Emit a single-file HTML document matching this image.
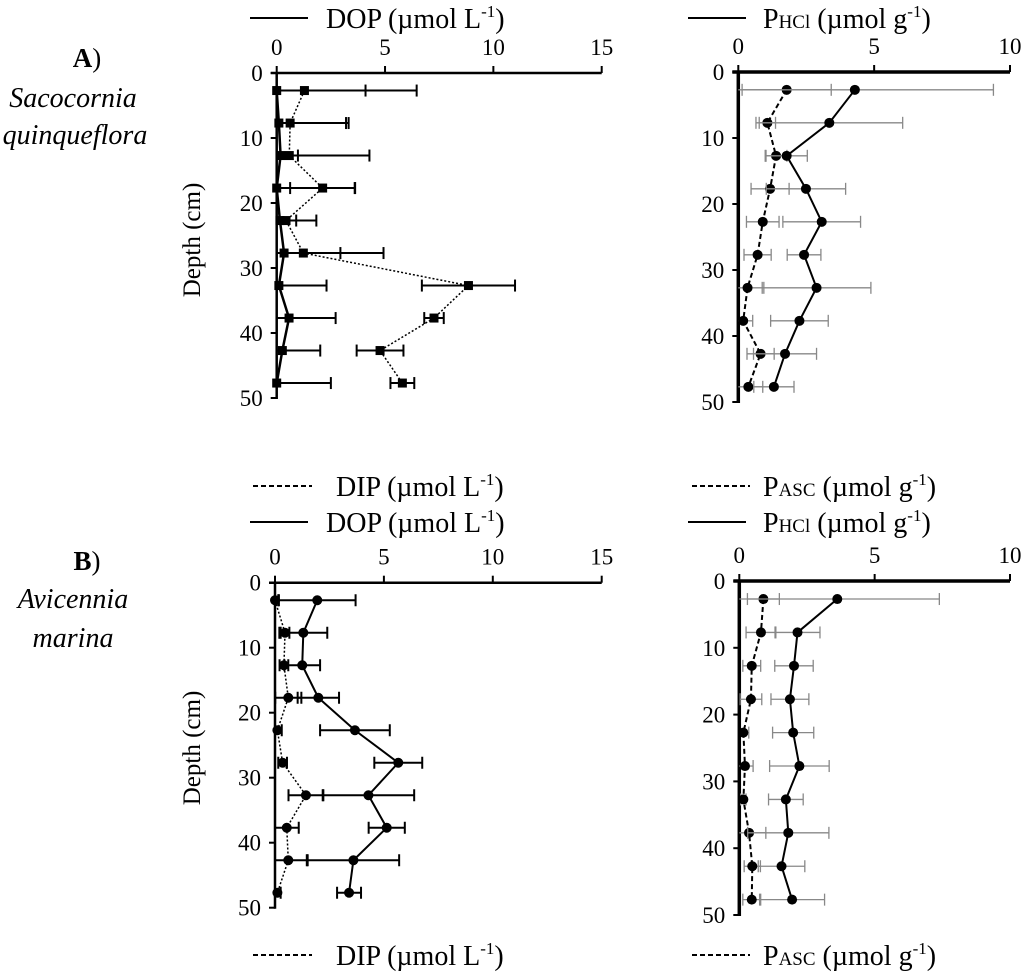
<!DOCTYPE html>
<html><head><meta charset="utf-8"><style>
html,body{margin:0;padding:0;background:#fff;}
svg{display:block;font-family:"Liberation Serif",serif;}
</style></head><body>
<svg id="fig" width="1024" height="977" viewBox="0 0 1024 977" xmlns="http://www.w3.org/2000/svg">
<g>
<text x="87" y="67" font-size="27" font-weight="bold" text-anchor="middle">A<tspan font-weight="normal">)</tspan></text>
<text x="73" y="107" font-size="28" font-style="italic" text-anchor="middle">Sacocornia</text>
<text x="75" y="144" font-size="28" font-style="italic" text-anchor="middle">quinqueflora</text>
</g>
<g>
<text x="87" y="570" font-size="27" font-weight="bold" text-anchor="middle">B<tspan font-weight="normal">)</tspan></text>
<text x="73" y="608" font-size="28" font-style="italic" text-anchor="middle">Avicennia</text>
<text x="73" y="647" font-size="28" font-style="italic" text-anchor="middle">marina</text>
</g>
<text transform="translate(200,240) rotate(-90)" font-size="25" text-anchor="middle">Depth (cm)</text>
<text transform="translate(200,748) rotate(-90)" font-size="25" text-anchor="middle">Depth (cm)</text>

<g><line x1="250" y1="18" x2="308" y2="18" stroke="#000" stroke-width="2"/><text x="326" y="28" font-size="28">DOP (µmol L<tspan font-size="17" dy="-11">-1</tspan><tspan dy="11">)</tspan></text></g>
<g><line x1="688" y1="18" x2="746" y2="18" stroke="#000" stroke-width="2"/><text x="763" y="28" font-size="28">P<tspan font-size="19">HCl</tspan> (µmol g<tspan font-size="17" dy="-11">-1</tspan><tspan dy="11">)</tspan></text></g>
<g><line x1="253" y1="486" x2="312" y2="486" stroke="#000" stroke-width="2" stroke-dasharray="5,3"/><text x="336" y="496" font-size="28">DIP (µmol L<tspan font-size="17" dy="-11">-1</tspan><tspan dy="11">)</tspan></text></g>
<g><line x1="692" y1="486" x2="750" y2="486" stroke="#000" stroke-width="2" stroke-dasharray="5,3"/><text x="763" y="496" font-size="28">P<tspan font-size="19">ASC</tspan> (µmol g<tspan font-size="17" dy="-11">-1</tspan><tspan dy="11">)</tspan></text></g>
<g><line x1="250" y1="522" x2="308" y2="522" stroke="#000" stroke-width="2"/><text x="326" y="532" font-size="28">DOP (µmol L<tspan font-size="17" dy="-11">-1</tspan><tspan dy="11">)</tspan></text></g>
<g><line x1="688" y1="522" x2="746" y2="522" stroke="#000" stroke-width="2"/><text x="763" y="532" font-size="28">P<tspan font-size="19">HCl</tspan> (µmol g<tspan font-size="17" dy="-11">-1</tspan><tspan dy="11">)</tspan></text></g>
<g><line x1="253" y1="955" x2="312" y2="955" stroke="#000" stroke-width="2" stroke-dasharray="5,3"/><text x="336" y="965" font-size="28">DIP (µmol L<tspan font-size="17" dy="-11">-1</tspan><tspan dy="11">)</tspan></text></g>
<g><line x1="692" y1="955" x2="750" y2="955" stroke="#000" stroke-width="2" stroke-dasharray="5,3"/><text x="763" y="965" font-size="28">P<tspan font-size="19">ASC</tspan> (µmol g<tspan font-size="17" dy="-11">-1</tspan><tspan dy="11">)</tspan></text></g>
</svg>
<script>
const depths = [2.7,7.7,12.7,17.7,22.7,27.7,32.7,37.7,42.7,47.7];
const depthTicks = [0,10,20,30,40,50];
const xTicksLeft = [0,5,10,15];
const xTicksRight = [0,5,10];
// Panel A left
const aDOP = [0,0.1,0.18,0,0.15,0.34,0.1,0.57,0.26,0];
const aDOPerr = [4.1,3.1,0.8,3.6,0.75,2.6,2.2,2.15,1.75,2.5];
const aDIP = [1.28,0.62,0.58,2.12,0.43,1.23,8.85,7.26,4.77,5.8];
const aDIPerr = [5.18,2.7,3.7,1.5,1.4,3.7,2.15,0.45,1.08,0.55];
// Panel A right
const aPHCl = [4.29,3.35,1.78,2.49,3.07,2.42,2.88,2.25,1.72,1.31];
const aPHClerr = [5.1,2.7,0.76,1.46,1.43,0.62,2.0,1.06,1.16,0.74];
const aPASC = [1.78,1.07,1.39,1.17,0.9,0.71,0.34,0.18,0.82,0.37];
const aPASCerr = [1.64,0.3,0.4,0.7,0.6,0.5,0.6,0.35,0.5,0.53];
// Panel B left
const bDOP = [1.94,1.3,1.25,1.99,3.67,5.66,4.29,5.13,3.6,3.4];
const bDOPerr = [1.76,1.1,0.82,0.95,1.6,1.1,2.1,0.83,2.1,0.55];
const bDIP = [0,0.46,0.41,0.61,0.11,0.35,1.42,0.54,0.61,0.11];
const bDIPerr = [0.15,0.2,0.2,0.6,0.2,0.2,0.8,0.55,0.85,0.15];
// Panel B right
const bPHCl = [3.62,2.15,2.02,1.87,1.99,2.22,1.72,1.81,1.56,1.95];
const bPHClerr = [3.77,0.83,0.71,0.7,0.76,1.1,0.64,1.5,0.86,1.2];
const bPASC = [0.89,0.8,0.46,0.43,0.15,0.21,0.15,0.36,0.48,0.46];
const bPASCerr = [0.59,0.55,0.33,0.4,0.2,0.3,0.1,0.62,0.3,0.33];

const NS='http://www.w3.org/2000/svg';
const svg=document.getElementById('fig');
function mk(tag,attrs,parent){const e=document.createElementNS(NS,tag);for(const k in attrs)e.setAttribute(k,attrs[k]);(parent||svg).appendChild(e);return e;}

function panel(name,cfg,series){
  const g=mk('g',{});
  
  
  const xs=v=>cfg.x0+(cfg.x1-cfg.x0)*v/cfg.max;
  const ys=d=>cfg.y0+d*cfg.k;
  const ax=mk('line',{x1:cfg.x0-6,y1:cfg.y0,x2:cfg.x1,y2:cfg.y0,stroke:'#000','stroke-width':cfg.aw},g);
  
  
  const ay=mk('line',{x1:cfg.x0,y1:cfg.y0,x2:cfg.x0,y2:ys(50)+1,stroke:'#000','stroke-width':cfg.aw},g);
  
  
  cfg.ticks.forEach(t=>{
    mk('line',{x1:xs(t),y1:cfg.y0,x2:xs(t),y2:cfg.y0-7,stroke:'#000','stroke-width':2},g);
    const tl=mk('text',{x:xs(t),y:cfg.y0-18,'font-size':23,'text-anchor':'middle'},g);
    
    
    tl.textContent=t;
  });
  depthTicks.forEach(t=>{
    mk('line',{x1:cfg.x0-6,y1:ys(t),x2:cfg.x0,y2:ys(t),stroke:'#000','stroke-width':2},g);
    const tl=mk('text',{x:cfg.x0-14,y:ys(t)+8,'font-size':23,'text-anchor':'end'},g);
    
    
    tl.textContent=t;
  });
  series.forEach(s=>{
    const sg=mk('g',{},g);
    
    
    s.vals.forEach((v,i)=>{
      const y=ys(depths[i]);
      const lo=Math.max(0,v-s.err[i]), hi=v+s.err[i];
      mk('line',{x1:xs(lo),y1:y,x2:xs(hi),y2:y,stroke:cfg.ec,'stroke-width':cfg.ew},sg);
      if(v-s.err[i]>0) mk('line',{x1:xs(lo),y1:y-6,x2:xs(lo),y2:y+6,stroke:cfg.ec,'stroke-width':cfg.ew},sg);
      mk('line',{x1:xs(hi),y1:y-6,x2:xs(hi),y2:y+6,stroke:cfg.ec,'stroke-width':cfg.ew},sg);
    });
    const pts=s.vals.map((v,i)=>xs(v)+','+ys(depths[i])).join(' ');
    const pl=mk('polyline',{points:pts,fill:'none',stroke:'#000','stroke-width':s.w,'stroke-dasharray':s.dash||'none'},sg);
    
    
    s.vals.forEach((v,i)=>{
      let m;
      if(cfg.square) m=mk('rect',{x:xs(v)-4.5,y:ys(depths[i])-4.5,width:9,height:9,fill:'#000'},sg);
      else m=mk('circle',{cx:xs(v),cy:ys(depths[i]),r:5,fill:'#000'},sg);
      
      
    });
  });
}
panel('panel-a-porewater',{x0:276.7,x1:601.7,max:15,y0:73,k:6.5,ticks:xTicksLeft,aw:2.5,ec:'#000',ew:2,square:true},
  [{name:'dip-series-a',vals:aDIP,err:aDIPerr,w:1.5,dash:'2,2'},{name:'dop-series-a',vals:aDOP,err:aDOPerr,w:2.5}]);
panel('panel-a-sediment',{x0:738.3,x1:1010,max:10,y0:72,k:6.6,ticks:xTicksRight,aw:3.5,ec:'#888',ew:1.3},
  [{name:'pasc-series-a',vals:aPASC,err:aPASCerr,w:2,dash:'5,3'},{name:'phcl-series-a',vals:aPHCl,err:aPHClerr,w:2}]);
panel('panel-b-porewater',{x0:275,x1:601.7,max:15,y0:582.7,k:6.5,ticks:xTicksLeft,aw:2.5,ec:'#000',ew:2},
  [{name:'dip-series-b',vals:bDIP,err:bDIPerr,w:1.5,dash:'2,2'},{name:'dop-series-b',vals:bDOP,err:bDOPerr,w:2}]);
panel('panel-b-sediment',{x0:739.3,x1:1010,max:10,y0:581,k:6.68,ticks:xTicksRight,aw:3.5,ec:'#888',ew:1.3},
  [{name:'pasc-series-b',vals:bPASC,err:bPASCerr,w:2,dash:'5,3'},{name:'phcl-series-b',vals:bPHCl,err:bPHClerr,w:2}]);
</script>
</body></html>
